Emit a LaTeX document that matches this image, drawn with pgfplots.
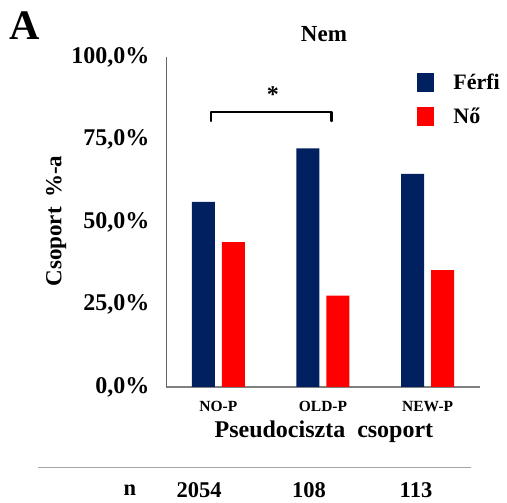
\documentclass[border=0pt]{standalone}
\usepackage{pgfplots}
\pgfplotsset{compat=1.18}
\usepackage{fontspec}
\setmainfont{Liberation Serif}
\definecolor{navy}{HTML}{002060}
\definecolor{myred}{HTML}{FF0000}
\begin{document}
\begin{tikzpicture}[x=1pt,y=1pt]
\path[use as bounding box] (0,0) rectangle (507,503);
\begin{axis}[
  at={(166pt,116pt)}, anchor=south west,
  scale only axis, width=314pt, height=330pt,
  xmin=-0.5, xmax=2.5, ymin=0, ymax=100,
  axis x line*=bottom, axis y line*=left,
  axis line style={gray!80!black, line width=0.8pt},
  x axis line style={-, gray, line width=1.2pt},
  y axis line style={-},
  ybar, bar width=23pt, bar shift auto,
  xtick={0,1,2}, xticklabels={NO-P,OLD-P,NEW-P},
  ytick={0,25,50,75,100},
  yticklabels={{0,0\%},{25,0\%},{50,0\%},{75,0\%},{100,0\%}},
  major tick length=0pt,
  yticklabel style={font=\bfseries\fontsize{24}{26}\selectfont, xshift=-13pt},
  xticklabel style={font=\bfseries\fontsize{15.5}{17}\selectfont, yshift=-11pt},
  clip=false,
  title={\bfseries Nem},
  title style={font=\bfseries\fontsize{23}{26}\selectfont, at={(axis description cs:0.503,1.052)}, anchor=center},
  xlabel={Pseudociszta\ \ csoport},
  xlabel style={font=\bfseries\fontsize{24}{26}\selectfont, at={(axis description cs:0.503,-0.136)}, anchor=center},
  ylabel={Csoport\, \%-a},
  ylabel style={font=\bfseries\fontsize{23}{26}\selectfont, at={(axis description cs:-0.350,0.503)}, anchor=center},
  legend style={draw=none, fill=none, at={(axis description cs:0.80,0.955)}, anchor=north west,
     inner sep=0pt, row sep=13pt, font=\bfseries\fontsize{22}{24}\selectfont,
     nodes={anchor=west, inner xsep=19pt}},
  legend image code/.code={\fill[#1] (0pt,-9.5pt) rectangle (17pt,9.5pt);},
  legend cell align=left,
]
\addplot[fill=navy, draw=none, bar shift=-15pt] coordinates {(0,56.1) (1,72.3) (2,64.6)};
\addlegendentry{Férfi}
\addplot[fill=myred, draw=none, bar shift=15pt] coordinates {(0,43.9) (1,27.7) (2,35.4)};
\addlegendentry{Nő}
\draw[black, line width=2.4pt, line cap=round, line join=round] (axis cs:-0.07,80.6) -- (axis cs:-0.07,83.3) -- (axis cs:1.08,83.3) -- (axis cs:1.08,80.6);
\node[font=\bfseries\fontsize{24}{26}\selectfont] at (axis cs:0.52,88.5) {*};
\end{axis}
\node[font=\bfseries\fontsize{42}{44}\selectfont] at (25,477) {A};
\draw[gray!70, line width=0.8pt] (38,36) -- (471,36);
\begin{scope}[every node/.style={font=\bfseries\fontsize{22.5}{25}\selectfont}]
\node at (130,13) {n};
\node at (199,13) {2054};
\node at (309,13) {108};
\node at (416,13) {113};
\end{scope}
\end{tikzpicture}
\end{document}
